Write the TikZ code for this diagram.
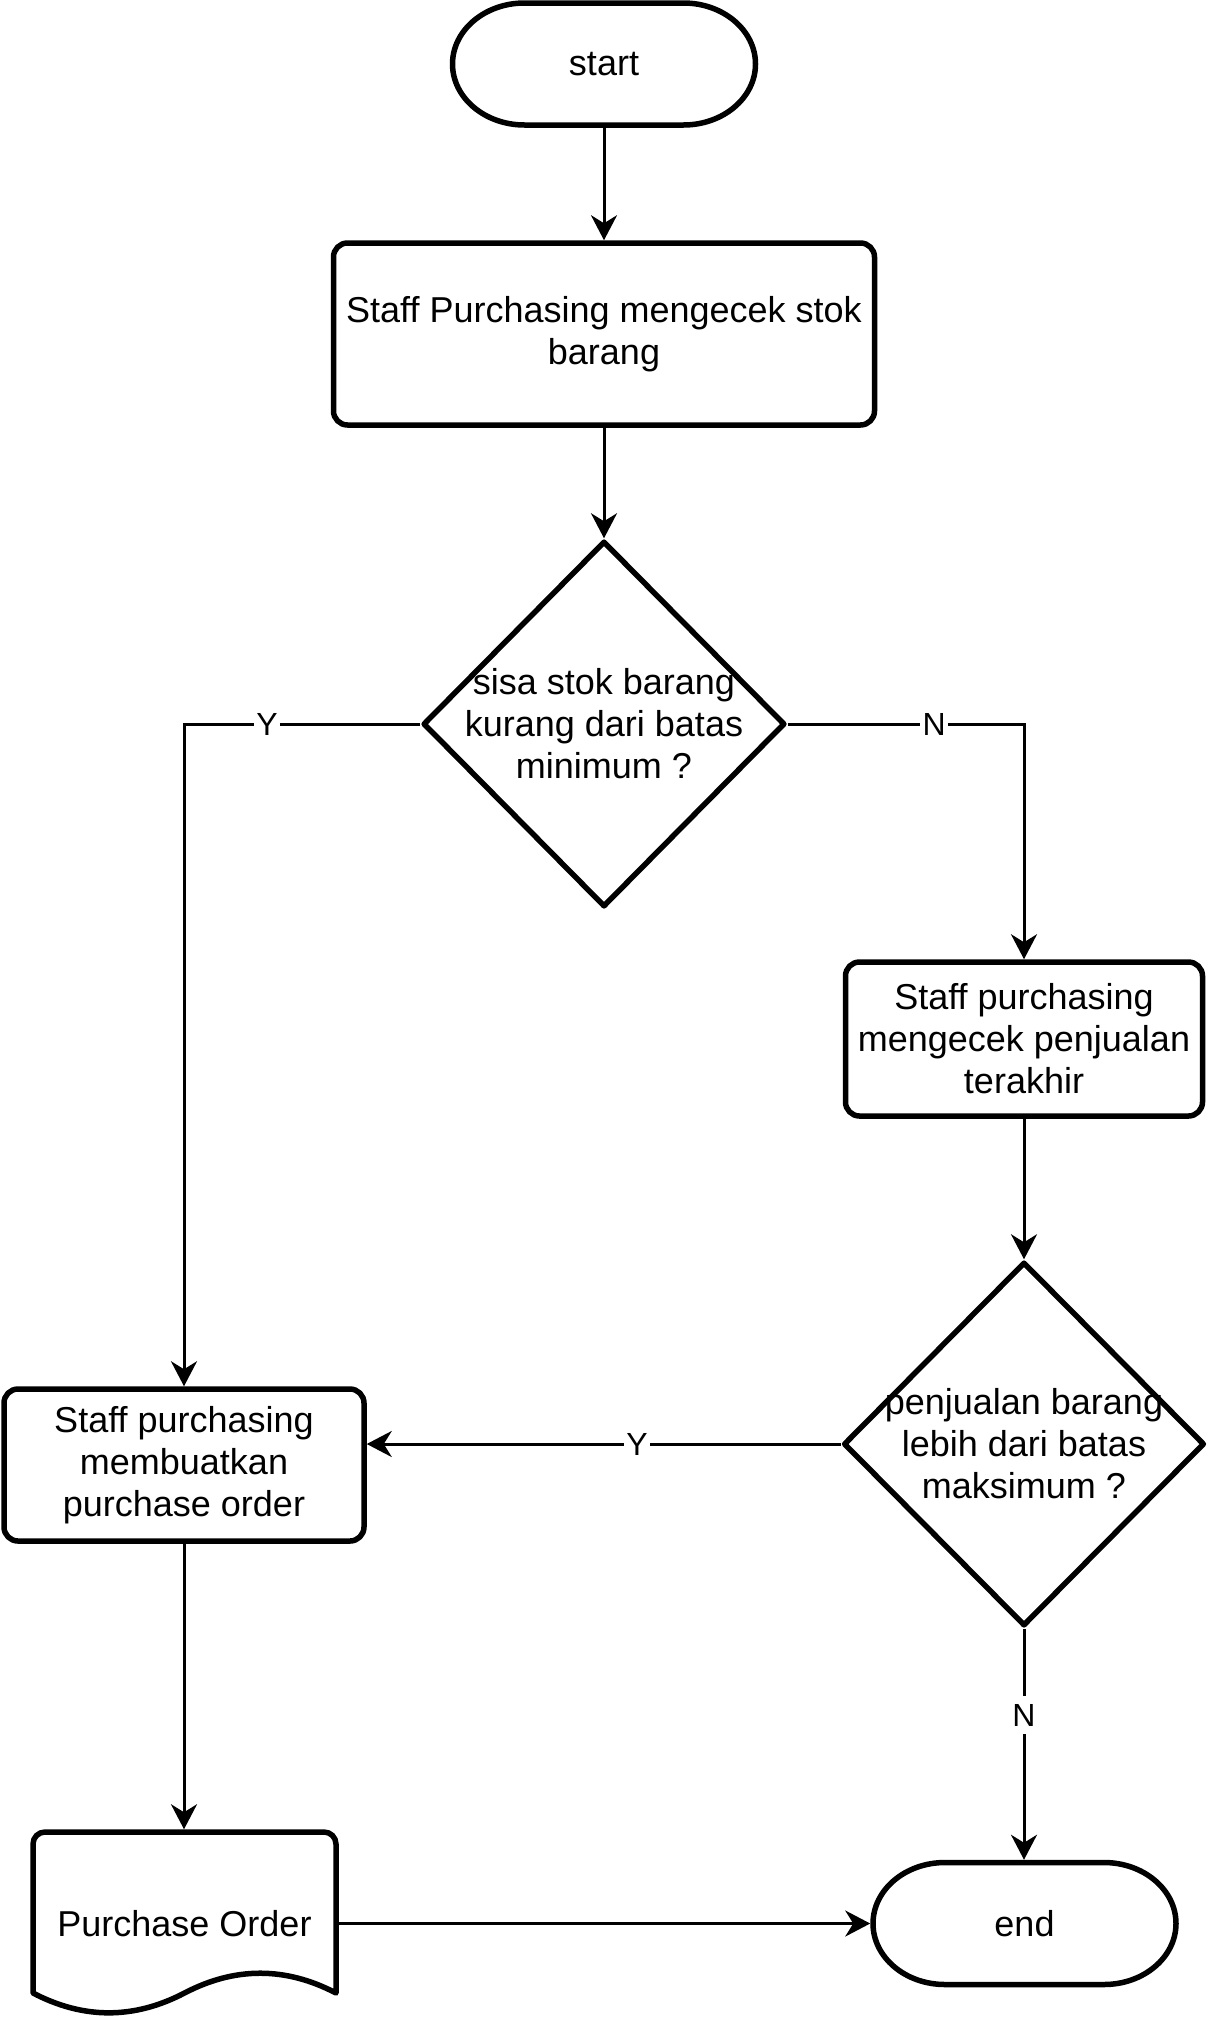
\documentclass[tikz,border=0pt]{standalone}
\usepackage{fontspec}
\setmainfont{Liberation Sans}
\usetikzlibrary{shapes.geometric,arrows.meta,calc}
\begin{document}
\begin{tikzpicture}[x=1pt,y=-1pt,
  txt/.style={align=center,font=\fontsize{36}{42}\selectfont,inner sep=0pt},
  shpline/.style={draw=black,line width=5.5pt,line join=round},
  proc/.style={txt,shpline,rectangle,rounded corners=14pt},
  termbox/.style={txt,rectangle,draw=none,outer sep=2.75pt},
  dec/.style={shpline,diamond,inner sep=0pt},
  docbox/.style={txt,rectangle,draw=none,outer sep=2.75pt},
  conn/.style={draw=black,line width=3pt,-{Stealth[length=25pt,width=26pt,inset=8pt]}},
  lbl/.style={fill=white,inner xsep=2.5pt,inner ysep=3pt,text height=27pt,text depth=5pt,font=\fontsize{32}{38}\selectfont}]
\useasboundingbox (0,0) rectangle (1209,2019);

% start terminator
\node[termbox,minimum width=303pt,minimum height=122pt] (start) at (604,64) {start};
\draw[shpline] ($(start.center)+(-79.5,-61)$) -- ($(start.center)+(79.5,-61)$)
  arc[start angle=-90,end angle=90,x radius=72,y radius=61]
  -- ($(start.center)+(-79.5,61)$)
  arc[start angle=90,end angle=270,x radius=72,y radius=61] -- cycle;

% process 1
\node[proc,minimum width=541pt,minimum height=182pt] (box1) at (604,334)
  {Staff Purchasing mengecek stok\\barang};

% decision 1
\node[dec,minimum width=362pt,minimum height=366pt,
  label={[txt]center:{sisa stok barang\\kurang dari batas\\minimum ?}}] (d1) at (604,724) {};

% process 2
\node[proc,minimum width=357pt,minimum height=154pt] (box2) at (1024,1039)
  {Staff purchasing\\mengecek penjualan\\terakhir};

% decision 2
\node[dec,minimum width=361pt,minimum height=364pt,
  label={[txt]center:{penjualan barang\\lebih dari batas\\maksimum ?}}] (d2) at (1024,1444) {};

% process 3
\node[proc,minimum width=360pt,minimum height=152pt] (box3) at (184,1465)
  {Staff purchasing\\membuatkan\\purchase order};

% document
\node[docbox,minimum width=303pt,minimum height=183pt] (doc) at (184.5,1923.5) {\raisebox{-3pt}{Purchase Order}};
\draw[shpline] (33,1993) -- (33,1844) arc[start angle=180,end angle=270,radius=12]
  -- (324,1832) arc[start angle=270,end angle=360,radius=12]
  -- (336,1993) .. controls (285.5,1966.6) and (235,1966.6) .. (184.5,1993)
  .. controls (134,2019.4) and (83.5,2019.4) .. (33,1993) -- cycle;

% end terminator
\node[termbox,minimum width=303pt,minimum height=122pt] (end) at (1024.5,1923.5) {end};
\draw[shpline] ($(end.center)+(-79.5,-61)$) -- ($(end.center)+(79.5,-61)$)
  arc[start angle=-90,end angle=90,x radius=72,y radius=61]
  -- ($(end.center)+(-79.5,61)$)
  arc[start angle=90,end angle=270,x radius=72,y radius=61] -- cycle;

% connectors
\draw[conn] (start) -- (box1);
\draw[conn] (box1) -- (d1);
\draw[conn] (d1.west) -| node[lbl,pos=0.324] {Y} (box3.north);
\draw[conn] (d1.east) -| node[lbl,pos=0.31] {N} (box2.north);
\draw[conn] (box2) -- (d2);
\draw[conn] (d2.west) -- node[lbl,pos=0.43] {Y} (d2.west -| box3.east);
\draw[conn] (d2.south) -- node[lbl,pos=0.375] {N} (d2.south |- end.north);
\draw[conn] (box3) -- (box3 |- doc.north);
\draw[conn] (doc.east) -- (doc.east -| end.west);
\end{tikzpicture}
\end{document}
